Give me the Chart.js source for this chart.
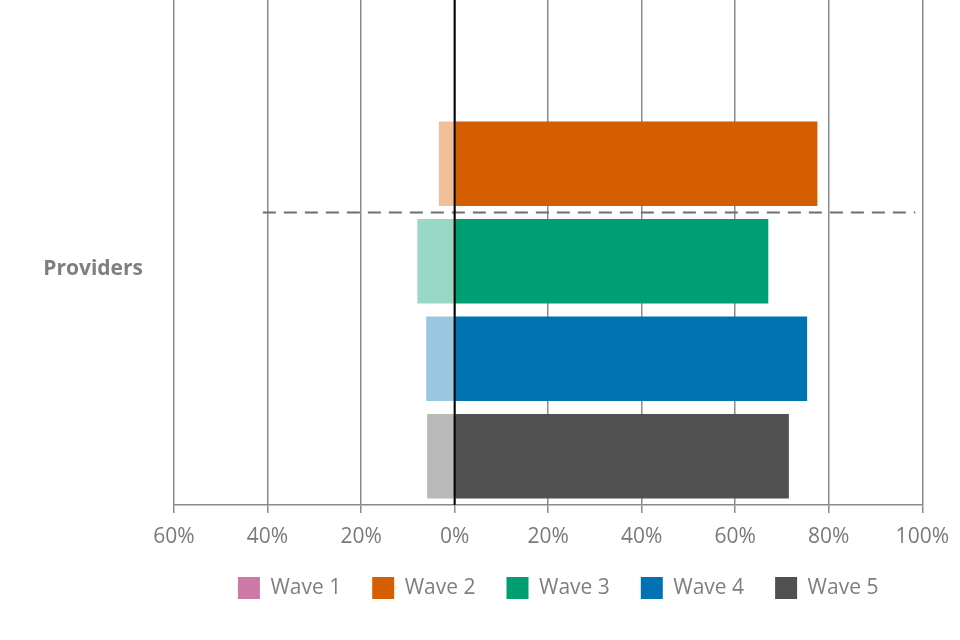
<!DOCTYPE html>
<html>
<head>
<meta charset="utf-8">
<script src="https://cdn.jsdelivr.net/npm/chart.js@4"></script>
<style>
  html, body { margin: 0; padding: 0; background: #fff; }
  #wrap { width: 960px; height: 640px; }
</style>
</head>
<body>
<div id="wrap"><canvas id="waves"></canvas></div>
<script>
// data
const groupLabel = "Providers";
const waveNames = ["Wave 1", "Wave 2", "Wave 3", "Wave 4", "Wave 5"];
const agreePct = [null, 77.5, 67.0, 75.3, 71.4];
const disagreePct = [null, 3.3, 7.9, 6.0, 5.8];
const waveColours = ["#cc79a7", "#d55e00", "#009e73", "#0072b2", "#505050"];
const lightColours = ["#ebc9dc", "#eebf99", "#99d8c7", "#99c7e0", "#b9b9b9"];
const xTicks = [-60, -40, -20, 0, 20, 40, 60, 80, 100];
// dashed divider between wave 2 and wave 3
const dividerAt = 1.5;
const dividerFrom = -41;
const dividerTo = 98.5;

Chart.defaults.font.family = "'Open Sans', sans-serif";
Chart.defaults.color = "#7f7f7f";

const ctx = document.getElementById("waves");

// zero line + dashed divider, on top of bars
const overlay = {
  id: "overlay",
  afterLayout(chart) {
    // legend sits a little right of the plot centre in the original
    if (chart.legend) {
      chart.legend.left += 10;
      chart.legend.right += 10;
    }
  },
  afterDatasetsDraw(chart) {
    const c = chart.ctx, x = chart.scales.x, y = chart.scales.y, a = chart.chartArea;
    c.save();
    c.strokeStyle = "#6e6e6e";
    c.lineWidth = 2;
    c.setLineDash([13, 8]);
    c.beginPath();
    c.moveTo(x.getPixelForValue(dividerFrom), y.getPixelForValue(dividerAt));
    c.lineTo(x.getPixelForValue(dividerTo), y.getPixelForValue(dividerAt));
    c.stroke();
    c.setLineDash([]);
    c.strokeStyle = "#000";
    c.lineWidth = 2;
    const x0 = x.getPixelForValue(0);
    c.beginPath();
    c.moveTo(x0, a.top);
    c.lineTo(x0, a.bottom);
    c.stroke();
    c.restore();
  }
};

new Chart(ctx, {
  type: "bar",
  data: {
    datasets: [
      {
        label: "agree",
        data: waveNames.map((w, i) => ({ y: i, x: agreePct[i] })),
        backgroundColor: waveColours,
        barThickness: 84,
        grouped: false,
      },
      {
        label: "disagree",
        data: waveNames.map((w, i) => ({ y: i, x: disagreePct[i] == null ? null : -disagreePct[i] })),
        backgroundColor: lightColours,
        barThickness: 84,
        grouped: false,
      },
    ],
  },
  options: {
    indexAxis: "y",
    responsive: true,
    maintainAspectRatio: false,
    animation: false,
    layout: { padding: { left: 0, right: 36, top: 0, bottom: 31 } },
    plugins: {
      tooltip: { enabled: false },
      legend: {
        position: "bottom",
        fullSize: false,
        labels: {
          boxWidth: 22,
          boxHeight: 22,
          padding: 31,
          font: { size: 21 },
          color: "#7f7f7f",
          generateLabels: () =>
            waveNames.map((n, i) => ({
              text: n,
              fillStyle: waveColours[i],
              strokeStyle: waveColours[i],
              fontColor: "#7f7f7f",
              lineWidth: 0,
              datasetIndex: 0,
            })),
        },
      },
    },
    scales: {
      x: {
        type: "linear",
        stacked: true,
        min: -60,
        max: 100,
        afterBuildTicks: (s) => { s.ticks = xTicks.map((v) => ({ value: v })); },
        afterFit: (s) => { s.height = 41; },
        ticks: {
          padding: 11,
          font: { size: 21 },
          color: "#7a7a7a",
          callback: (v) => Math.abs(v) + "%",
        },
        grid: {
          color: "#8a8a8a",
          lineWidth: 1.5,
          tickLength: 8,
        },
        border: { color: "#8a8a8a", width: 1.5 },
      },
      y: {
        type: "linear",
        reverse: true,
        offset: false,
        min: -0.68,
        max: 4.5,
        afterBuildTicks: (s) => { s.ticks = [{ value: 2.08 }]; },
        afterFit: (s) => {
          s.width = 174;
          s.paddingTop = 0;
          s.paddingBottom = 0;
        },
        ticks: {
          padding: 31,
          font: { size: 21, weight: "bold" },
          color: "#7f7f7f",
          callback: () => groupLabel,
        },
        grid: { display: false, drawTicks: false, offset: false },
        border: { display: false },
      },
    },
  },
  plugins: [overlay],
});
</script>
</body>
</html>
